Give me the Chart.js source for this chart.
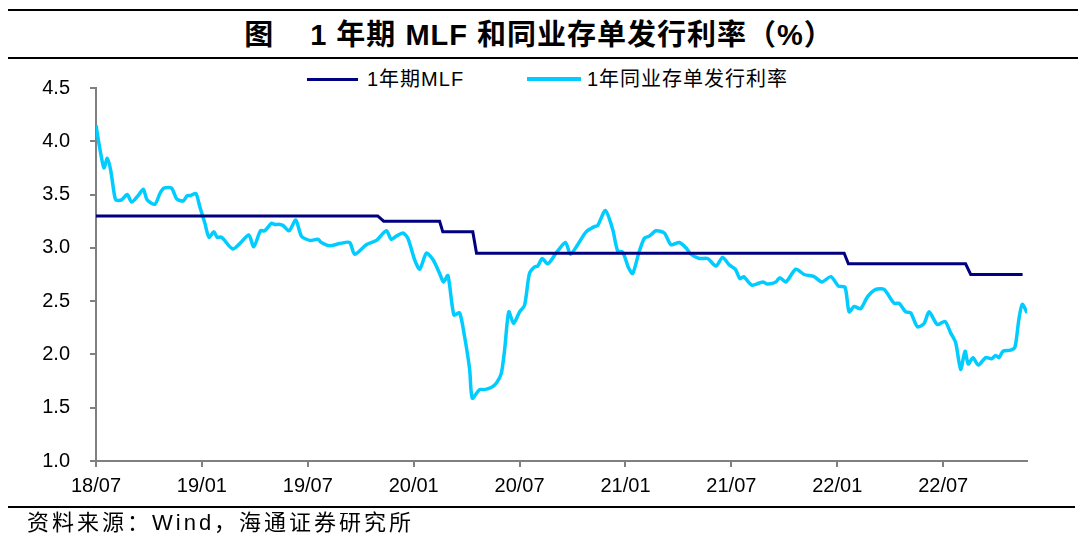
<!DOCTYPE html>
<html>
<head>
<meta charset="utf-8">
<script src="https://cdn.jsdelivr.net/npm/chart.js@4.4.0/dist/chart.umd.min.js"></script>
<style>
  body { margin: 0; width: 1080px; height: 543px; position: relative; background: #fff; overflow: hidden;
         font-family: "Liberation Sans", Arial, "Noto Sans CJK SC", sans-serif; color: #000; }
  .rule { position: absolute; left: 8px; width: 1070px; background: #000; }
  #title { position: absolute; top: 14px; left: 0; width: 1078px; text-align: center;
           font-weight: bold; font-size: 29px; line-height: 42px; white-space: nowrap; letter-spacing: 1px; }
  #title .gap { display: inline-block; width: 36px; }
  .leg { position: absolute; top: 66px; height: 26px; font-size: 20px; line-height: 26px; letter-spacing: 1px; white-space: nowrap; }
  .leg i { position: absolute; top: 12px; height: 3px; width: 51px; left: 0; }
  .leg span { position: absolute; left: 60px; }
  #source { position: absolute; left: 27px; top: 509px; font-size: 22px; line-height: 28px; letter-spacing: 3px; white-space: nowrap; }
  canvas { position: absolute; left: 0; top: 0; }
</style>
</head>
<body>
<div class="rule" style="top:9px;height:2px"></div>
<div id="title">图<span class="gap"></span>1 年期 MLF 和同业存单发行利率（%）</div>
<div class="rule" style="top:57px;height:2px"></div>

<div class="leg" style="left:307px"><i style="background:#000080"></i><span>1年期MLF</span></div>
<div class="leg" style="left:527px"><i style="background:#00CCFF;top:11px;height:4px;width:54px"></i><span>1年同业存单发行利率</span></div>

<div style="position:absolute;left:0;top:0;width:1080px;height:543px"><canvas id="c" width="1080" height="543"></canvas></div>

<div class="rule" style="top:506px;height:2px;width:1067px"></div>
<div id="source">资料来源：Wind，海通证券研究所</div>

<script>
// x positions are months counted from 2018/07
const xTickMonths = [0, 6, 12, 18, 24, 30, 36, 42, 48];
const xTickLabels = ['18/07', '19/01', '19/07', '20/01', '20/07', '21/01', '21/07', '22/01', '22/07'];

const mlfMonths = [0, 15.96, 16.30, 19.47, 19.65, 21.35, 21.56, 42.39, 42.63, 49.27, 49.56, 52.5];
const mlfRates  = [3.30, 3.30, 3.25, 3.25, 3.15, 3.15, 2.95, 2.95, 2.85, 2.85, 2.75, 2.75];

const cdMonths = [
  0.00, 0.23, 0.45, 0.64, 0.83, 1.02, 1.13, 1.45, 1.77, 2.02, 2.39, 2.68, 2.90, 3.34, 3.62, 3.85,
  4.28, 4.57, 4.94, 5.17, 5.36, 5.66, 5.89, 6.17, 6.40, 6.68, 6.86, 7.11, 7.74, 8.15, 8.66, 8.94,
  9.32, 9.56, 9.94, 10.13, 10.41, 10.60, 10.94, 11.32, 11.64, 12.11, 12.58, 12.77, 13.24, 13.81,
  14.37, 14.66, 15.32, 15.89, 16.45, 16.73, 17.02, 17.39, 17.67, 18.05, 18.34, 18.72, 19.09, 19.47,
  19.69, 19.94, 20.28, 20.60, 20.88, 21.17, 21.32, 21.73, 22.01, 22.39, 22.68, 22.96, 23.15, 23.39,
  23.66, 24.00, 24.28, 24.56, 24.84, 25.03, 25.28, 25.60, 26.07, 26.60, 26.88, 27.29, 27.77, 28.24,
  28.43, 28.86, 29.28, 29.56, 29.84, 30.18, 30.41, 30.75, 31.07, 31.35, 31.73, 32.20, 32.58, 33.05,
  33.43, 33.71, 34.18, 34.65, 35.13, 35.50, 35.88, 36.22, 36.49, 36.69, 37.16, 37.58, 37.80, 38.05,
  38.52, 38.75, 39.09, 39.65, 40.12, 40.69, 41.13, 41.64, 42.07, 42.44, 42.67, 42.95, 43.33, 43.71,
  44.18, 44.65, 45.22, 45.50, 45.88, 46.16, 46.54, 46.92, 47.20, 47.67, 48.10, 48.43, 48.71, 48.99,
  49.24, 49.42, 49.69, 49.99, 50.41, 50.75, 50.98, 51.16, 51.39, 51.82, 52.07, 52.29, 52.48, 52.76
];
const cdRates = [
  4.15, 3.92, 3.75, 3.84, 3.73, 3.52, 3.45, 3.45, 3.50, 3.43, 3.49, 3.55, 3.45, 3.41, 3.51, 3.56,
  3.56, 3.46, 3.44, 3.49, 3.49, 3.51, 3.38, 3.23, 3.10, 3.15, 3.10, 3.10, 2.99, 3.04, 3.12, 3.01,
  3.16, 3.16, 3.23, 3.22, 3.22, 3.21, 3.16, 3.26, 3.11, 3.07, 3.08, 3.05, 3.02, 3.04,
  3.05, 2.94, 3.03, 3.07, 3.16, 3.08, 3.11, 3.14, 3.09, 2.89, 2.80, 2.95, 2.89, 2.76,
  2.68, 2.74, 2.37, 2.39, 2.17, 1.86, 1.59, 1.67, 1.67, 1.69, 1.73, 1.82, 2.04, 2.40,
  2.29, 2.40, 2.46, 2.76, 2.82, 2.83, 2.90, 2.85, 2.95, 3.05, 2.94, 3.03, 3.15, 3.20,
  3.21, 3.35, 3.17, 2.97, 2.96, 2.81, 2.76, 2.95, 3.09, 3.11, 3.16, 3.14, 3.03, 3.05,
  3.00, 2.94, 2.90, 2.90, 2.83, 2.91, 2.84, 2.80, 2.71, 2.73, 2.65, 2.67, 2.68, 2.66,
  2.68, 2.72, 2.68, 2.80, 2.75, 2.73, 2.68, 2.73, 2.64, 2.63, 2.40, 2.45, 2.43, 2.54,
  2.61, 2.61, 2.48, 2.48, 2.40, 2.39, 2.26, 2.29, 2.40, 2.28, 2.31, 2.20, 2.11, 1.86,
  2.03, 1.91, 1.97, 1.90, 1.97, 1.96, 1.99, 1.97, 2.03, 2.04, 2.07, 2.33, 2.47, 2.39
];

const axisGray = '#808080';
const tickFont = { family: '"Liberation Sans", Arial, sans-serif', size: 20 };

new Chart(document.getElementById('c'), {
  type: 'line',
  data: {
    datasets: [
      {
        label: '1年期MLF',
        data: mlfMonths.map((m, i) => ({ x: m, y: mlfRates[i] })),
        borderColor: '#000080',
        borderWidth: 3,
        pointRadius: 0,
        tension: 0,
        fill: false
      },
      {
        label: '1年同业存单发行利率',
        data: cdMonths.map((m, i) => ({ x: m, y: cdRates[i] })),
        borderColor: '#00CCFF',
        borderWidth: 3.5,
        pointRadius: 0,
        tension: 0.25,
        fill: false
      }
    ]
  },
  options: {
    responsive: false,
    animation: false,
    events: [],
    layout: { padding: { top: 88, left: 0, right: 53, bottom: 0 } },
    plugins: { legend: { display: false }, tooltip: { enabled: false } },
    scales: {
      x: {
        type: 'linear',
        min: 0,
        max: 52.75,
        afterFit: s => { s.height = 82; },
        afterBuildTicks: s => { s.ticks = xTickMonths.map(v => ({ value: v })); },
        ticks: {
          autoSkip: false,
          maxRotation: 0,
          padding: 7,
          color: '#000',
          font: tickFont,
          callback: v => xTickLabels[xTickMonths.indexOf(v)]
        },
        grid: { drawOnChartArea: false, drawTicks: true, tickLength: 6, color: axisGray, lineWidth: 2 },
        border: { display: true, color: axisGray, width: 2 }
      },
      y: {
        min: 1.0,
        max: 4.5,
        afterFit: s => { s.width = 96; },
        ticks: {
          stepSize: 0.5,
          padding: 20,
          color: '#000',
          font: tickFont,
          callback: v => v.toFixed(1)
        },
        grid: { drawOnChartArea: false, drawTicks: true, tickLength: 6, color: axisGray, lineWidth: 2 },
        border: { display: true, color: axisGray, width: 2 }
      }
    }
  }
});
</script>
</body>
</html>
